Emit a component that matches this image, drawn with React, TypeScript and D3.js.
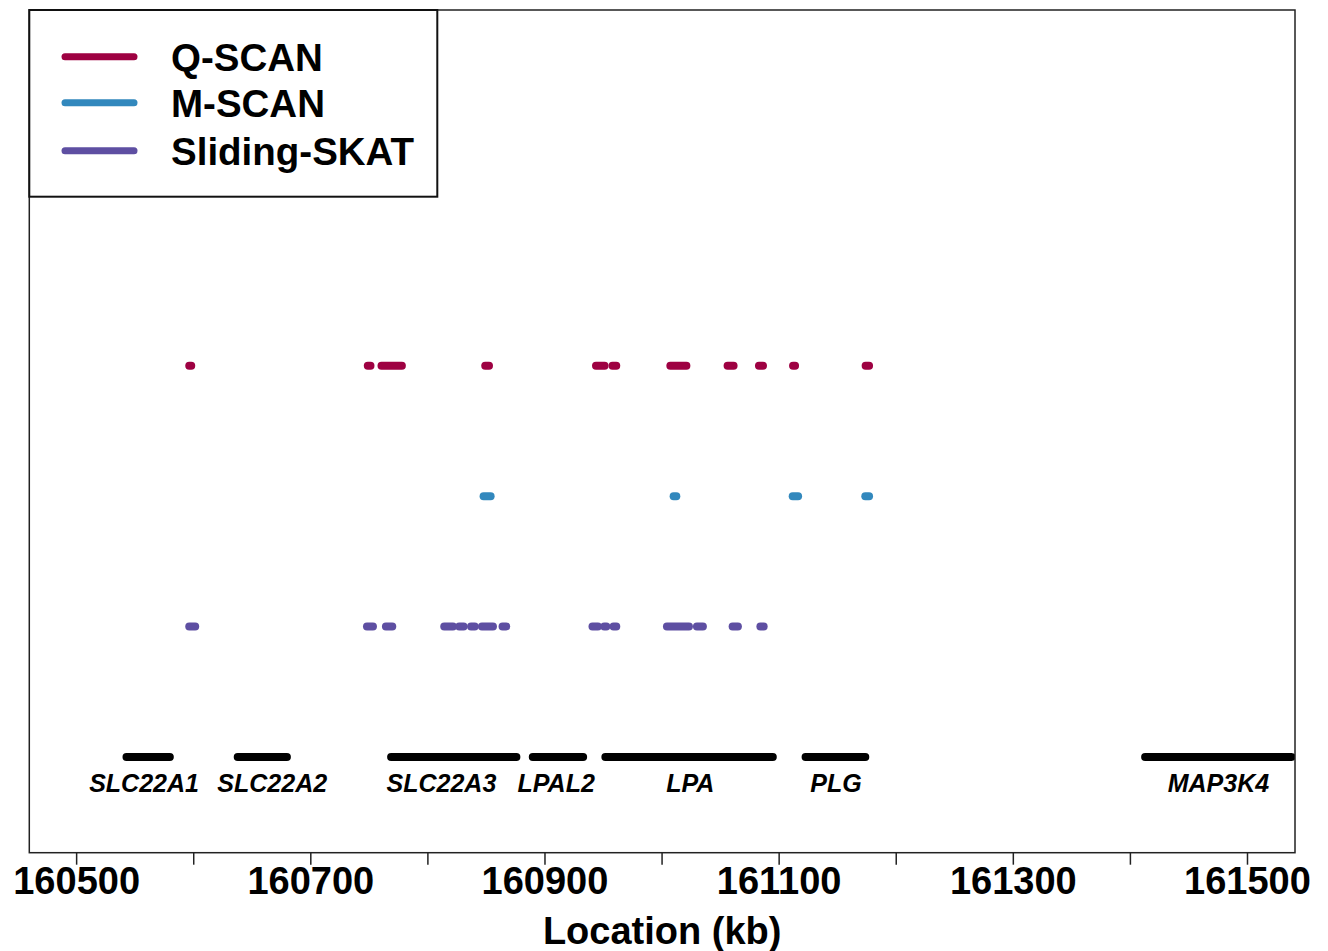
import { useEffect, useRef } from 'react'
import * as d3 from 'd3'

// Significant regions for each method (start kb, end kb)
const qscanRegions = [
  [160596.6, 160598.3],
  [160749.1, 160751.4],
  [160760.8, 160778.2],
  [160849.4, 160852.6],
  [160944.0, 160951.3],
  [160958.1, 160961.3],
  [161007.5, 161021.2],
  [161056.4, 161061.5],
  [161083.2, 161086.6],
  [161112.3, 161114.0],
  [161174.3, 161177.2],
]

const mscanRegions = [
  [160848.0, 160854.0],
  [161010.3, 161012.6],
  [161112.0, 161116.6],
  [161174.0, 161177.2],
]

const skatRegions = [
  [160596.6, 160601.7],
  [160748.4, 160753.5],
  [160764.6, 160770.0],
  [160814.4, 160821.8],
  [160827.2, 160830.9],
  [160837.3, 160840.4],
  [160846.6, 160856.0],
  [160864.2, 160867.3],
  [160941.0, 160945.6],
  [160951.1, 160952.8],
  [160959.0, 160961.3],
  [161004.6, 161023.4],
  [161030.2, 161035.3],
  [161060.7, 161065.2],
  [161084.4, 161087.2],
]

// Genes in the region
const geneNames = ['SLC22A1', 'SLC22A2', 'SLC22A3', 'LPAL2', 'LPA', 'PLG', 'MAP3K4']
const geneStarts = [160543, 160638, 160769, 160890, 160952, 161123, 161413]
const geneEnds = [160580, 160680, 160876, 160933, 161095, 161174, 161538]
const geneLabelAt = [160558, 160667.5, 160812, 160910, 161024.6, 161149, 161475.6]

const methods = ['Q-SCAN', 'M-SCAN', 'Sliding-SKAT']
const methodColors = ['#9E0142', '#3288BD', '#5E4FA2']
const methodRows = [3, 2, 1]

const xTicks = [160500, 160600, 160700, 160800, 160900, 161000, 161100, 161200, 161300, 161400, 161500]
const xTickLabels = ['160500', '', '160700', '', '160900', '', '161100', '', '161300', '', '161500']

const App = () => {
  const svgRef = useRef(null)

  useEffect(() => {
    const svg = d3.select(svgRef.current)
    svg.selectAll('*').remove()

    // plot box
    const left = 29.3
    const right = 1295
    const top = 10
    const bottom = 852.7
    const font = '"Liberation Sans", Arial, sans-serif'

    const x = d3.scaleLinear().domain([160460, 161541]).range([left, right])
    const y = d3.scaleLinear().domain([-0.735, 5.73]).range([bottom, top])

    svg
      .append('defs')
      .append('clipPath')
      .attr('id', 'plotclip')
      .append('rect')
      .attr('x', left)
      .attr('y', top)
      .attr('width', right - left)
      .attr('height', bottom - top)

    const plot = svg.append('g').attr('clip-path', 'url(#plotclip)')

    // method rows
    const allRegions = [qscanRegions, mscanRegions, skatRegions]
    allRegions.forEach((regions, i) => {
      plot
        .selectAll(`.seg${i}`)
        .data(regions)
        .enter()
        .append('line')
        .attr('x1', (d) => x(d[0]))
        .attr('x2', (d) => x(d[1]))
        .attr('y1', y(methodRows[i]))
        .attr('y2', y(methodRows[i]))
        .attr('stroke', methodColors[i])
        .attr('stroke-width', 8)
        .attr('stroke-linecap', 'round')
    })

    // gene bars
    plot
      .selectAll('.gene')
      .data(geneNames)
      .enter()
      .append('line')
      .attr('x1', (d, i) => x(geneStarts[i]))
      .attr('x2', (d, i) => x(geneEnds[i]))
      .attr('y1', y(0))
      .attr('y2', y(0))
      .attr('stroke', '#000')
      .attr('stroke-width', 8)
      .attr('stroke-linecap', 'round')

    plot
      .selectAll('.genelabel')
      .data(geneNames)
      .enter()
      .append('text')
      .attr('x', (d, i) => x(geneLabelAt[i]))
      .attr('y', y(0) + 35)
      .attr('text-anchor', 'middle')
      .style('font-family', font)
      .style('font-weight', 'bold')
      .style('font-style', 'italic')
      .style('font-size', '25px')
      .text((d) => d)

    // frame
    svg
      .append('rect')
      .attr('x', left)
      .attr('y', top)
      .attr('width', right - left)
      .attr('height', bottom - top)
      .attr('fill', 'none')
      .attr('stroke', '#222')
      .attr('stroke-width', 1.5)

    // x axis
    const xAxis = svg
      .append('g')
      .attr('transform', `translate(0, ${bottom})`)
      .call(
        d3
          .axisBottom(x)
          .tickValues(xTicks)
          .tickSize(12)
          .tickPadding(4)
          .tickFormat((d, i) => xTickLabels[i])
      )
    xAxis.select('.domain').remove()
    xAxis.selectAll('line').attr('stroke', '#222').attr('stroke-width', 1.5)
    xAxis
      .selectAll('text')
      .attr('fill', '#000')
      .attr('dy', 0)
      .attr('y', 41)
      .style('font-family', font)
      .style('font-weight', 'bold')
      .style('font-size', '38px')

    svg
      .append('text')
      .attr('x', (left + right) / 2)
      .attr('y', 944)
      .attr('text-anchor', 'middle')
      .style('font-family', font)
      .style('font-weight', 'bold')
      .style('font-size', '38px')
      .text('Location (kb)')

    // legend
    const legend = svg.append('g')
    legend
      .append('rect')
      .attr('x', left)
      .attr('y', top)
      .attr('width', 437.3 - left)
      .attr('height', 196.7 - top)
      .attr('fill', '#fff')
      .attr('stroke', '#111')
      .attr('stroke-width', 2)

    const legendY = [56.7, 102.7, 150.7]
    methods.forEach((m, i) => {
      legend
        .append('line')
        .attr('x1', 65)
        .attr('x2', 134)
        .attr('y1', legendY[i])
        .attr('y2', legendY[i])
        .attr('stroke', methodColors[i])
        .attr('stroke-width', 7)
        .attr('stroke-linecap', 'round')
      legend
        .append('text')
        .attr('x', 171)
        .attr('y', legendY[i] + 14)
        .style('font-family', font)
        .style('font-weight', 'bold')
        .style('font-size', '38.5px')
        .text(m)
    })
  }, [])

  return (
    <svg
      ref={svgRef}
      width='1328'
      height='951'
      style={{ position: 'absolute', left: 0, top: 0, background: '#fff' }}
    />
  )
}

export default App
